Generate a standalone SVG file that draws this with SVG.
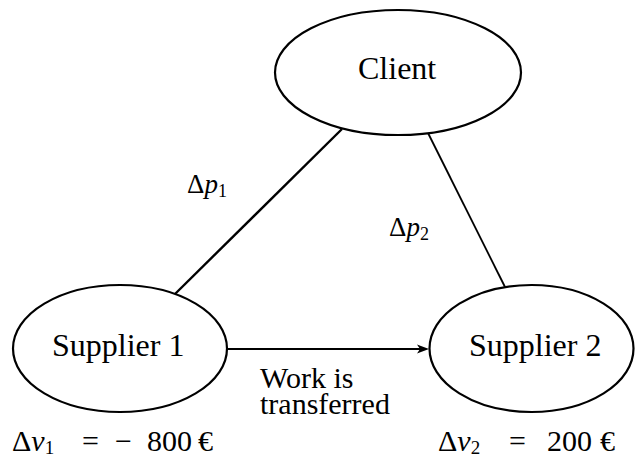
<svg xmlns="http://www.w3.org/2000/svg" width="635" height="459" viewBox="0 0 635 459">
<rect width="635" height="459" fill="#fff"/>
<g id="connectors" stroke="#000" fill="none">
<line x1="342" y1="129" x2="175" y2="294" stroke-width="2.4"/>
<line x1="428" y1="133" x2="505" y2="287" stroke-width="1.8"/>
<line x1="227" y1="349" x2="420" y2="349" stroke-width="2"/>
<polygon points="417,344.5 429,349 417,353.5 420,349" fill="#000" stroke="none"/>
</g>
<g id="edge-labels">
<text font-family="Liberation Serif" x="187" y="193" font-size="27">&#916;<tspan font-style="italic">p</tspan><tspan font-size="18" dy="4">1</tspan></text>
<text font-family="Liberation Serif" x="389" y="236" font-size="27">&#916;<tspan font-style="italic">p</tspan><tspan font-size="18" dy="4">2</tspan></text>
<text font-family="Liberation Serif" x="260" y="388" font-size="30">Work is</text>
<text font-family="Liberation Serif" x="260" y="414" font-size="30">transferred</text>
</g>
<g id="client">
<ellipse cx="398" cy="72.5" rx="123" ry="62.5" fill="#fff" stroke="#000" stroke-width="2.2"/>
<text font-family="Liberation Serif" x="358" y="79" font-size="32">Client</text>
</g>
<g id="supplier1">
<ellipse cx="120" cy="348.5" rx="107" ry="63.5" fill="#fff" stroke="#000" stroke-width="2.2"/>
<text font-family="Liberation Serif" x="52" y="356" font-size="32">Supplier 1</text>
<text font-family="Liberation Serif" y="451" font-size="30"><tspan x="12">&#916;</tspan><tspan font-style="italic">v</tspan><tspan font-size="19" dy="3">1</tspan><tspan x="82" dy="-3">=</tspan><tspan x="115">&#8722;</tspan><tspan x="147">800</tspan><tspan x="198">&#8364;</tspan></text>
</g>
<g id="supplier2">
<ellipse cx="531.5" cy="348.5" rx="102" ry="63.5" fill="#fff" stroke="#000" stroke-width="2.2"/>
<text font-family="Liberation Serif" x="469" y="356" font-size="32">Supplier 2</text>
<text font-family="Liberation Serif" y="451" font-size="30"><tspan x="438">&#916;</tspan><tspan font-style="italic">v</tspan><tspan font-size="19" dy="3">2</tspan><tspan x="509" dy="-3">=</tspan><tspan x="547">200</tspan><tspan x="600">&#8364;</tspan></text>
</g>
</svg>
